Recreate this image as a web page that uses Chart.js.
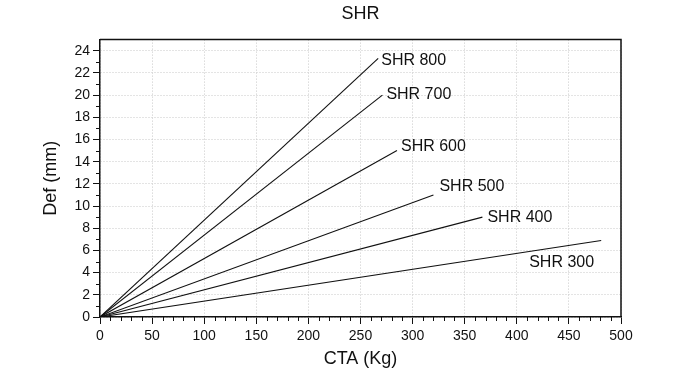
<!DOCTYPE html>
<html>
<head>
<meta charset="utf-8">
<script src="https://cdn.jsdelivr.net/npm/chart.js@4"></script>
<style>
  html, body { margin: 0; padding: 0; background: #fff; }
  #wrap { width: 676px; height: 376px; }
</style>
</head>
<body>
<div id="wrap"><canvas id="myChart" width="676" height="376"></canvas></div>
<script>
// series names and end points (each line starts at origin)
var seriesNames = ["SHR 800", "SHR 700", "SHR 600", "SHR 500", "SHR 400", "SHR 300"];
var ctaValues = [
  [0, 267],
  [0, 271],
  [0, 285],
  [0, 320],
  [0, 367],
  [0, 481]
];
var defValues = [
  [0, 23.3],
  [0, 20.0],
  [0, 15.0],
  [0, 11.0],
  [0, 9.0],
  [0, 6.9]
];
var xTicks = [0, 50, 100, 150, 200, 250, 300, 350, 400, 450, 500];
var yTicks = [0, 2, 4, 6, 8, 10, 12, 14, 16, 18, 20, 22, 24];

var FONT = "'Liberation Sans', Arial, Helvetica, sans-serif";
var INK = "#111";

// build datasets from the arrays
var datasets = seriesNames.map(function (name, i) {
  return {
    label: name,
    data: ctaValues[i].map(function (x, j) { return { x: x, y: defValues[i][j] }; }),
    borderColor: INK,
    borderWidth: 1.1,
    pointRadius: 0,
    fill: false,
    tension: 0
  };
});

// text next to each line end (pixel offsets from end point)
var labelOffsets = [[3, 2], [4, 0], [4, -4], [6, -8], [5, 0], [-72, 22]];

const lineLabels = {
  id: "lineLabels",
  afterDatasetsDraw(chart) {
    const ctx = chart.ctx;
    const xs = chart.scales.x, ys = chart.scales.y;
    ctx.save();
    ctx.font = "16px " + FONT;
    ctx.fillStyle = INK;
    ctx.textBaseline = "middle";
    ctx.textAlign = "left";
    seriesNames.forEach(function (name, i) {
      const n = ctaValues[i].length - 1;
      const px = xs.getPixelForValue(ctaValues[i][n]);
      const py = ys.getPixelForValue(defValues[i][n]);
      ctx.fillText(name, px + labelOffsets[i][0], py + labelOffsets[i][1]);
    });
    ctx.restore();
  }
};

// minor ticks + frame on top/right
const frameAndMinor = {
  id: "frameAndMinor",
  afterDraw(chart) {
    const ctx = chart.ctx;
    const a = chart.chartArea;
    const xs = chart.scales.x, ys = chart.scales.y;
    ctx.save();
    ctx.strokeStyle = INK;
    ctx.lineWidth = 1;
    ctx.beginPath();
    for (let v = 10; v < 500; v += 10) {
      if (v % 50 === 0) continue;
      const px = Math.round(xs.getPixelForValue(v)) + 0.5;
      ctx.moveTo(px, a.bottom);
      ctx.lineTo(px, a.bottom + 4);
    }
    for (let v = 1; v < 25; v += 2) {
      const py = Math.round(ys.getPixelForValue(v)) + 0.5;
      ctx.moveTo(a.left, py);
      ctx.lineTo(a.left - 4, py);
    }
    ctx.stroke();
    ctx.lineWidth = 1.5;
    ctx.beginPath();
    ctx.moveTo(a.left, a.top);
    ctx.lineTo(a.right, a.top);
    ctx.lineTo(a.right, a.bottom);
    ctx.stroke();
    ctx.restore();
  }
};

const config = {
  type: "line",
  data: { datasets: datasets },
  options: {
    responsive: false,
    animation: false,
    layout: { padding: { left: 0, right: 55, top: 0, bottom: 0 } },
    plugins: {
      legend: { display: false },
      tooltip: { enabled: false },
      title: {
        display: true,
        text: "SHR",
        fullSize: false,
        color: INK,
        font: { family: FONT, size: 18, weight: "normal" },
        padding: { top: 3, bottom: 15 }
      }
    },
    scales: {
      x: {
        type: "linear",
        min: 0,
        max: 500,
        afterBuildTicks: function (scale) {
          scale.ticks = xTicks.map(function (v) { return { value: v }; });
        },
        afterFit: function (scale) { scale.height = 59; },
        grid: {
          color: "#c8c8c8",
          tickColor: INK,
          tickLength: 7,
          tickBorderDash: []
        },
        border: { color: INK, width: 1.5, dash: [1, 2] },
        ticks: {
          color: INK,
          padding: 4,
          maxRotation: 0,
          font: { family: FONT, size: 14 }
        },
        title: {
          display: true,
          text: "CTA (Kg)",
          color: INK,
          font: { family: FONT, size: 18 },
          padding: { top: 0, bottom: 6 }
        }
      },
      y: {
        type: "linear",
        min: 0,
        max: 25,
        afterBuildTicks: function (scale) {
          scale.ticks = yTicks.map(function (v) { return { value: v }; });
        },
        afterFit: function (scale) { scale.width = 100; },
        grid: {
          color: "#c8c8c8",
          tickColor: INK,
          tickLength: 7,
          tickBorderDash: []
        },
        border: { color: INK, width: 1.5, dash: [1, 2] },
        ticks: {
          color: INK,
          padding: 3,
          font: { family: FONT, size: 14 }
        },
        title: {
          display: true,
          text: "Def (mm)",
          color: INK,
          font: { family: FONT, size: 18 },
          padding: { top: 40, bottom: 0 }
        }
      }
    }
  },
  plugins: [lineLabels, frameAndMinor]
};

const myChart = new Chart(document.getElementById("myChart").getContext("2d"), config);
</script>
</body>
</html>
